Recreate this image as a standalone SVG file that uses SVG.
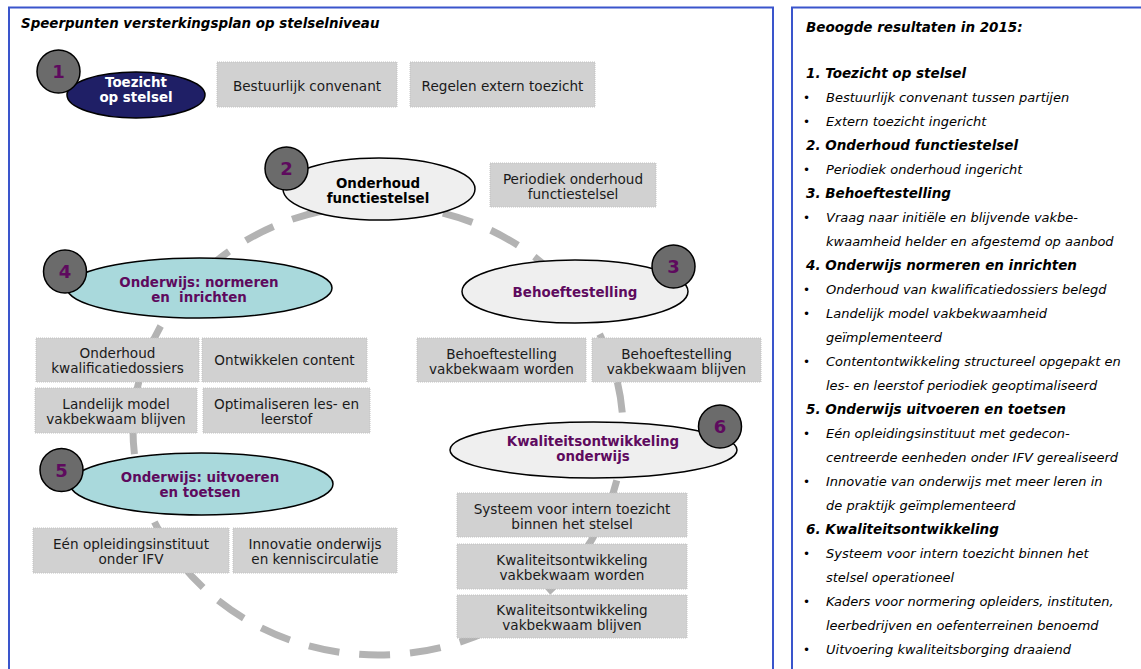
<svg xmlns="http://www.w3.org/2000/svg" width="1141" height="669" viewBox="0 0 1141 669">
  <style>
    .panel { fill: #ffffff; stroke: #3a55cc; stroke-width: 2; }
    .loop { fill: none; stroke: #b3b3b3; stroke-width: 7; stroke-dasharray: 31 20; }
    .ell { stroke: #000000; stroke-width: 1.5; }
    .navy { fill: #1f1f66; }
    .grey { fill: #efefef; }
    .cyan { fill: #a9d9dc; }
    .badge { fill: #6b6b6b; stroke: #000000; stroke-width: 1.5; }
    .num { font-family: "DejaVu Sans", Verdana, sans-serif; font-weight: bold; font-size: 18px; fill: #5e0a5e; text-anchor: middle; }
    .lbl { font-family: "DejaVu Sans", Verdana, sans-serif; font-weight: bold; font-size: 13.4px; text-anchor: middle; white-space: pre; }
    .w { fill: #ffffff; }
    .k { fill: #000000; }
    .p { fill: #5e0a5e; }
    .box { fill: #d1d1d1; stroke: #c2c2c2; stroke-width: 1; stroke-dasharray: 1 1; }
    .bt { font-family: "DejaVu Sans", Verdana, sans-serif; font-size: 13.6px; fill: #1a1a1a; text-anchor: middle; }
    .title { font-family: "DejaVu Sans", Verdana, sans-serif; font-weight: bold; font-style: italic; font-size: 13.4px; fill: #000000; }
    .h { font-family: "DejaVu Sans", Verdana, sans-serif; font-weight: bold; font-style: italic; font-size: 13.5px; fill: #000000; }
    .it { font-family: "DejaVu Sans", Verdana, sans-serif; font-style: italic; font-size: 13px; fill: #000000; }
    .dot { font-family: "DejaVu Sans", Verdana, sans-serif; font-size: 12px; fill: #000000; }
  </style>

  <rect width="1141" height="669" fill="#ffffff"/>

  <!-- Left panel: focus points -->
  <rect class="panel" x="9" y="7.5" width="764" height="680"/>
  <text class="title" x="21" y="28">Speerpunten versterkingsplan op stelselniveau</text>

  <!-- Right panel: intended results -->
  <rect class="panel" x="792" y="7.5" width="370" height="680"/>

  <!-- Dashed cycle linking the focus points -->
  <g id="connectors">
    <ellipse class="loop" cx="378" cy="430" rx="245" ry="225"/>
  </g>

  <!-- 1 -->
  <g id="node1">
    <ellipse class="ell navy" cx="136" cy="95" rx="69" ry="23"/>
    <circle class="badge" cx="58.5" cy="71.5" r="21.5"/>
    <text class="num" x="58.5" y="78">1</text>
    <text class="lbl w" x="136" y="87">Toezicht</text>
    <text class="lbl w" x="136" y="102">op stelsel</text>
  </g>

  <!-- 2 -->
  <g id="node2">
    <ellipse class="ell grey" cx="379" cy="189" rx="96" ry="31"/>
    <circle class="badge" cx="286.5" cy="168.5" r="21.5"/>
    <text class="num" x="286.5" y="175">2</text>
    <text class="lbl k" x="378" y="188">Onderhoud</text>
    <text class="lbl k" x="378" y="203">functiestelsel</text>
  </g>

  <!-- 3 -->
  <g id="node3">
    <ellipse class="ell grey" cx="575" cy="291.5" rx="113" ry="31.5"/>
    <circle class="badge" cx="673.5" cy="266.5" r="21.5"/>
    <text class="num" x="673.5" y="273">3</text>
    <text class="lbl p" x="575" y="297">Behoeftestelling</text>
  </g>

  <!-- 4 -->
  <g id="node4">
    <ellipse class="ell cyan" cx="199.5" cy="288" rx="132.5" ry="30"/>
    <circle class="badge" cx="65" cy="271.5" r="21.5"/>
    <text class="num" x="65" y="278">4</text>
    <text class="lbl p" x="199" y="287">Onderwijs: normeren</text>
    <text class="lbl p" x="199" y="302">en  inrichten</text>
  </g>

  <!-- 5 -->
  <g id="node5">
    <ellipse class="ell cyan" cx="201.5" cy="484" rx="131.5" ry="31"/>
    <circle class="badge" cx="61.5" cy="470" r="21.5"/>
    <text class="num" x="61.5" y="476.5">5</text>
    <text class="lbl p" x="200" y="482">Onderwijs: uitvoeren</text>
    <text class="lbl p" x="200" y="497">en toetsen</text>
  </g>

  <!-- 6 -->
  <g id="node6">
    <ellipse class="ell grey" cx="593.5" cy="450" rx="143.5" ry="28"/>
    <circle class="badge" cx="720" cy="426.5" r="21.5"/>
    <text class="num" x="720" y="433">6</text>
    <text class="lbl p" x="593" y="446">Kwaliteitsontwikkeling</text>
    <text class="lbl p" x="593" y="461">onderwijs</text>
  </g>

  <!-- Activity boxes -->
  <g id="box-bestuurlijk">
    <rect class="box" x="217" y="62" width="180" height="45"/>
    <text class="bt" x="307" y="90.5">Bestuurlijk convenant</text>
  </g>
  <g id="box-regelen">
    <rect class="box" x="410" y="62" width="185" height="45"/>
    <text class="bt" x="502.5" y="90.5">Regelen extern toezicht</text>
  </g>
  <g id="box-periodiek">
    <rect class="box" x="490" y="163" width="166" height="44"/>
    <text class="bt" x="573" y="183.5">Periodiek onderhoud</text>
    <text class="bt" x="573" y="198.5">functiestelsel</text>
  </g>
  <g id="box-behoefte-worden">
    <rect class="box" x="417" y="338" width="169" height="44"/>
    <text class="bt" x="501.5" y="358.5">Behoeftestelling</text>
    <text class="bt" x="501.5" y="373.5">vakbekwaam worden</text>
  </g>
  <g id="box-behoefte-blijven">
    <rect class="box" x="592" y="338" width="169" height="44"/>
    <text class="bt" x="676.5" y="358.5">Behoeftestelling</text>
    <text class="bt" x="676.5" y="373.5">vakbekwaam blijven</text>
  </g>
  <g id="box-kwalificatie">
    <rect class="box" x="36" y="338" width="163" height="44"/>
    <text class="bt" x="117.5" y="358">Onderhoud</text>
    <text class="bt" x="117.5" y="373">kwalificatiedossiers</text>
  </g>
  <g id="box-content">
    <rect class="box" x="202" y="338" width="165" height="44"/>
    <text class="bt" x="284.5" y="365">Ontwikkelen content</text>
  </g>
  <g id="box-landelijk">
    <rect class="box" x="35" y="388" width="162" height="45"/>
    <text class="bt" x="116" y="408.5">Landelijk model</text>
    <text class="bt" x="116" y="423.5">vakbekwaam blijven</text>
  </g>
  <g id="box-optimaliseren">
    <rect class="box" x="203" y="388" width="167" height="45"/>
    <text class="bt" x="286.5" y="408.5">Optimaliseren les- en</text>
    <text class="bt" x="286.5" y="423.5">leerstof</text>
  </g>
  <g id="box-instituut">
    <rect class="box" x="33" y="528" width="196" height="45"/>
    <text class="bt" x="131" y="548.5">Eén opleidingsinstituut</text>
    <text class="bt" x="131" y="563.5">onder IFV</text>
  </g>
  <g id="box-innovatie">
    <rect class="box" x="233" y="528" width="164" height="45"/>
    <text class="bt" x="315" y="548.5">Innovatie onderwijs</text>
    <text class="bt" x="315" y="563.5">en kenniscirculatie</text>
  </g>
  <g id="box-systeem">
    <rect class="box" x="457" y="493" width="230" height="44"/>
    <text class="bt" x="572" y="513.5">Systeem voor intern toezicht</text>
    <text class="bt" x="572" y="528.5">binnen het stelsel</text>
  </g>
  <g id="box-kwal-worden">
    <rect class="box" x="457" y="544" width="230" height="45"/>
    <text class="bt" x="572" y="564.5">Kwaliteitsontwikkeling</text>
    <text class="bt" x="572" y="579.5">vakbekwaam worden</text>
  </g>
  <g id="box-kwal-blijven">
    <rect class="box" x="457" y="595" width="230" height="43"/>
    <text class="bt" x="572" y="615">Kwaliteitsontwikkeling</text>
    <text class="bt" x="572" y="630">vakbekwaam blijven</text>
  </g>

  <!-- Results list -->
  <g id="results">
    <text class="h" x="806" y="32">Beoogde resultaten in 2015:</text>

    <text class="h" x="806" y="78">1. Toezicht op stelsel</text>
    <text class="dot" x="803" y="102">•</text>
    <text class="it" x="826" y="102">Bestuurlijk convenant tussen partijen</text>
    <text class="dot" x="803" y="126">•</text>
    <text class="it" x="826" y="126">Extern toezicht ingericht</text>

    <text class="h" x="806" y="150">2. Onderhoud functiestelsel</text>
    <text class="dot" x="803" y="174">•</text>
    <text class="it" x="826" y="174">Periodiek onderhoud ingericht</text>

    <text class="h" x="806" y="198">3. Behoeftestelling</text>
    <text class="dot" x="803" y="222">•</text>
    <text class="it" x="826" y="222">Vraag naar initiële en blijvende vakbe-</text>
    <text class="it" x="826" y="246">kwaamheid helder en afgestemd op aanbod</text>

    <text class="h" x="806" y="270">4. Onderwijs normeren en inrichten</text>
    <text class="dot" x="803" y="294">•</text>
    <text class="it" x="826" y="294">Onderhoud van kwalificatiedossiers belegd</text>
    <text class="dot" x="803" y="318">•</text>
    <text class="it" x="826" y="318">Landelijk model vakbekwaamheid</text>
    <text class="it" x="826" y="342">geïmplementeerd</text>
    <text class="dot" x="803" y="366">•</text>
    <text class="it" x="826" y="366">Contentontwikkeling structureel opgepakt en</text>
    <text class="it" x="826" y="390">les- en leerstof periodiek geoptimaliseerd</text>

    <text class="h" x="806" y="414">5. Onderwijs uitvoeren en toetsen</text>
    <text class="dot" x="803" y="438">•</text>
    <text class="it" x="826" y="438">Eén opleidingsinstituut met gedecon-</text>
    <text class="it" x="826" y="462">centreerde eenheden onder IFV gerealiseerd</text>
    <text class="dot" x="803" y="486">•</text>
    <text class="it" x="826" y="486">Innovatie van onderwijs met meer leren in</text>
    <text class="it" x="826" y="510">de praktijk geïmplementeerd</text>

    <text class="h" x="806" y="534">6. Kwaliteitsontwikkeling</text>
    <text class="dot" x="803" y="558">•</text>
    <text class="it" x="826" y="558">Systeem voor intern toezicht binnen het</text>
    <text class="it" x="826" y="582">stelsel operationeel</text>
    <text class="dot" x="803" y="606">•</text>
    <text class="it" x="826" y="606">Kaders voor normering opleiders, instituten,</text>
    <text class="it" x="826" y="630">leerbedrijven en oefenterreinen benoemd</text>
    <text class="dot" x="803" y="654">•</text>
    <text class="it" x="826" y="654">Uitvoering kwaliteitsborging draaiend</text>
  </g>
</svg>
